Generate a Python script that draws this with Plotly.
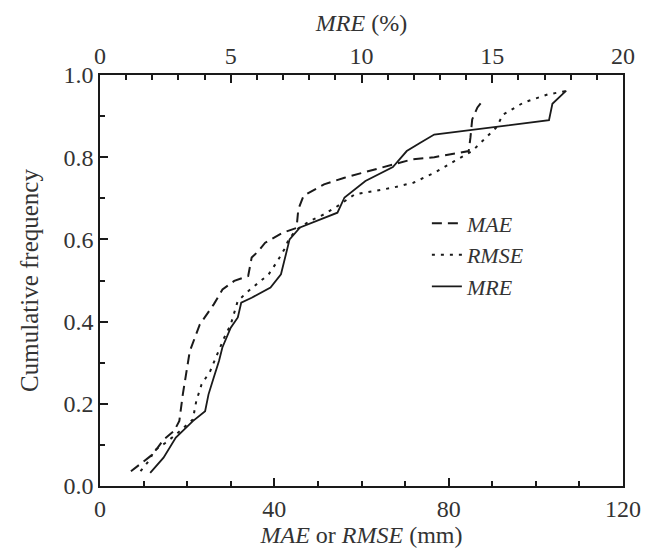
import plotly.graph_objects as go

# MAE (mm) vs cumulative frequency
mae_x = [7.1, 9.3, 11.5, 13.0, 14.6, 17.0, 18.2, 19.0, 20.2, 20.6, 22.9, 24.5, 26.1, 28.1, 30.8,
         34.0, 34.8, 36.4, 37.9, 41.9, 45.1, 45.5, 46.7, 51.4, 56.1, 60.9, 67.2, 71.7, 76.7,
         82.4, 84.6, 85.0, 85.4, 86.6, 88.1]
mae_y = [0.036, 0.054, 0.072, 0.090, 0.113, 0.134, 0.158, 0.223, 0.304, 0.328, 0.393, 0.418,
         0.442, 0.478, 0.499, 0.511, 0.556, 0.572, 0.592, 0.616, 0.628, 0.673, 0.706, 0.734,
         0.750, 0.764, 0.783, 0.795, 0.800, 0.810, 0.815, 0.848, 0.892, 0.921, 0.941]

# RMSE (mm) vs cumulative frequency
rmse_x = [9.3, 11.5, 12.3, 14.9, 17.4, 21.3, 22.1, 23.3, 25.3, 26.9, 28.5, 30.0, 31.6, 34.0,
          36.4, 38.7, 40.7, 42.3, 43.3, 45.1, 48.2, 51.4, 54.5, 58.5, 63.2, 67.2, 71.9, 76.7,
          81.4, 85.4, 88.1, 90.9, 92.5, 97.2, 102.8, 107.1]
rmse_y = [0.036, 0.065, 0.085, 0.104, 0.125, 0.162, 0.207, 0.247, 0.280, 0.320, 0.361, 0.393,
          0.450, 0.474, 0.495, 0.515, 0.547, 0.576, 0.600, 0.624, 0.645, 0.661, 0.681, 0.710,
          0.718, 0.726, 0.738, 0.762, 0.791, 0.815, 0.843, 0.872, 0.904, 0.933, 0.953, 0.961]

# MRE (%) vs cumulative frequency
mre_x = [1.92, 2.43, 2.90, 3.55, 4.02, 4.15, 4.35, 4.55, 4.68, 5.00, 5.27, 5.40, 5.80, 6.52,
         6.92, 7.12, 7.25, 7.65, 8.30, 9.08, 9.35, 10.15, 11.20, 11.73, 12.25, 12.78, 17.17,
         17.30, 17.83]
mre_y = [0.032, 0.069, 0.118, 0.158, 0.182, 0.223, 0.264, 0.304, 0.337, 0.385, 0.410, 0.446,
         0.458, 0.483, 0.515, 0.564, 0.600, 0.629, 0.645, 0.665, 0.702, 0.742, 0.776, 0.815,
         0.835, 0.855, 0.890, 0.930, 0.962]

FONT = "Liberation Serif"
INK = "#1a1a1a"
FS = 24

fig = go.Figure()
fig.add_trace(go.Scatter(x=mae_x, y=mae_y, mode="lines", name="<i>MAE</i>",
                         line=dict(color=INK, width=2, dash="10px,6px")))
fig.add_trace(go.Scatter(x=rmse_x, y=rmse_y, mode="lines", name="<i>RMSE</i>",
                         line=dict(color=INK, width=2, dash="3px,6px")))
fig.add_trace(go.Scatter(x=mre_x, y=mre_y, mode="lines", name="<i>MRE</i>", xaxis="x2",
                         line=dict(color=INK, width=1.8)))

axis_common = dict(showgrid=False, zeroline=False, showline=True, linecolor=INK, linewidth=1.5,
                   ticks="inside", ticklen=8, tickwidth=1.5, tickcolor=INK,
                   tickfont=dict(family=FONT, size=FS, color="#333"))
minor_common = dict(ticks="inside", ticklen=5, tickwidth=1.5, tickcolor=INK, showgrid=False)

fig.update_layout(
    width=653, height=554,
    margin=dict(l=100, r=29, t=75, b=65),
    paper_bgcolor="white", plot_bgcolor="white",
    font=dict(family=FONT, color=INK),
    xaxis=dict(range=[0, 120], dtick=40, tick0=0, minor=dict(dtick=10, **minor_common),
               title=dict(text="<i>MAE</i> or <i>RMSE</i> (mm)", font=dict(family=FONT, size=FS, color="#333"), standoff=4),
               **axis_common),
    xaxis2=dict(range=[0, 20], dtick=5, tick0=0, overlaying="x", side="top",
                minor=dict(dtick=1, **minor_common),
                title=dict(text="<i>MRE</i> (%)", font=dict(family=FONT, size=FS, color="#333"), standoff=4),
                **axis_common),
    yaxis=dict(range=[0, 1], dtick=0.2, tick0=0, tickformat=".1f", mirror=True,
               minor=dict(dtick=0.1, **minor_common),
               title=dict(text="Cumulative frequency", font=dict(family=FONT, size=25, color="#333"), standoff=18),
               **axis_common),
    legend=dict(x=0.625, y=0.69, xanchor="left", yanchor="top", bgcolor="rgba(0,0,0,0)",
                font=dict(family=FONT, size=22, color="#333"), tracegroupgap=0),
    showlegend=True,
)

fig.write_html("out.html")
